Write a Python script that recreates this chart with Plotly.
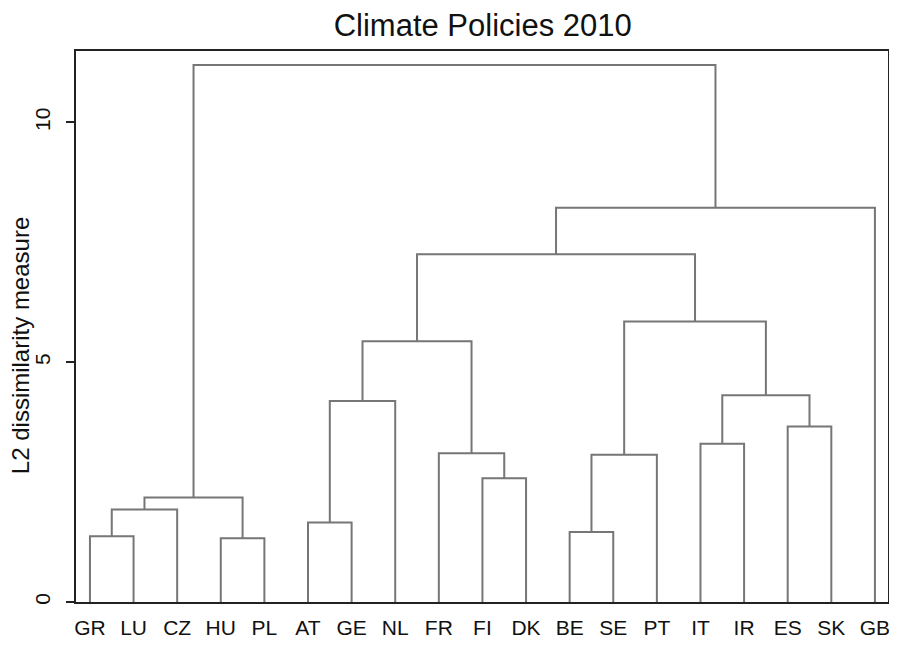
import plotly.graph_objects as go

# ---- data ----
leaves = ["GR", "LU", "CZ", "HU", "PL", "AT", "GE", "NL", "FR", "FI",
          "DK", "BE", "SE", "PT", "IT", "IR", "ES", "SK", "GB"]
# merges: node ids 0..18 are leaves, 19.. are clusters in order below
merge_left = [0, 19, 3, 20, 5, 23, 9, 8, 24, 11, 28, 14, 16, 30, 29, 27, 34, 22]
merge_right = [1, 2, 4, 21, 6, 7, 10, 25, 26, 12, 13, 15, 17, 31, 32, 33, 18, 35]
merge_height = [1.37, 1.93, 1.33, 2.18, 1.66, 4.19, 2.58, 3.10, 5.44,
                1.46, 3.07, 3.30, 3.66, 4.31, 5.85, 7.25, 8.22, 11.20]
y_ticks = [0, 5, 10]

# ---- compute dendrogram geometry ----
n = len(leaves)
node_x = {i: i + 1 for i in range(n)}
node_y = {i: 0.0 for i in range(n)}
xs, ys = [], []
for k, (a, b, h) in enumerate(zip(merge_left, merge_right, merge_height)):
    xa, ya, xb, yb = node_x[a], node_y[a], node_x[b], node_y[b]
    xs += [xa, xa, xb, xb, None]
    ys += [ya, h, h, yb, None]
    node_x[n + k] = (xa + xb) / 2
    node_y[n + k] = h

fig = go.Figure()
fig.add_trace(go.Scatter(x=xs, y=ys, mode="lines",
                         line=dict(color="#767676", width=2),
                         hoverinfo="skip", showlegend=False))

font_family = "Liberation Sans, Arial, sans-serif"
fig.update_layout(
    width=889, height=638,
    margin=dict(l=68, r=7, t=43, b=40),
    paper_bgcolor="white", plot_bgcolor="white",
    title=dict(text="Climate Policies 2010", x=0.534, xanchor="center",
               y=0.973, yanchor="middle",
               font=dict(family=font_family, size=31, color="#111")),
    font=dict(family=font_family, color="#111"),
    showlegend=False,
)
fig.update_xaxes(
    range=[0.68, 19.30],
    tickmode="array", tickvals=list(range(1, n + 1)), ticktext=leaves,
    ticks="", showgrid=False, zeroline=False,
    showline=True, linecolor="#222", linewidth=2, mirror=True,
    tickfont=dict(size=21, color="#111"), ticklabelstandoff=6,
)
fig.update_yaxes(
    range=[0, 11.49],
    tickmode="array", tickvals=y_ticks, ticktext=[str(v) for v in y_ticks],
    ticks="outside", ticklen=8, tickwidth=1.5, tickcolor="#222",
    tickangle=-90, showgrid=False, zeroline=False,
    showline=True, linecolor="#222", linewidth=2, mirror=True,
    tickfont=dict(size=21, color="#111"), ticklabelstandoff=8,
)
fig.add_annotation(text="L2 dissimilarity measure", textangle=-90,
                   xref="paper", yref="paper", x=-0.0685, y=0.465,
                   xanchor="center", yanchor="middle", showarrow=False,
                   font=dict(family=font_family, size=24, color="#111"))

fig.write_html("out.html")
